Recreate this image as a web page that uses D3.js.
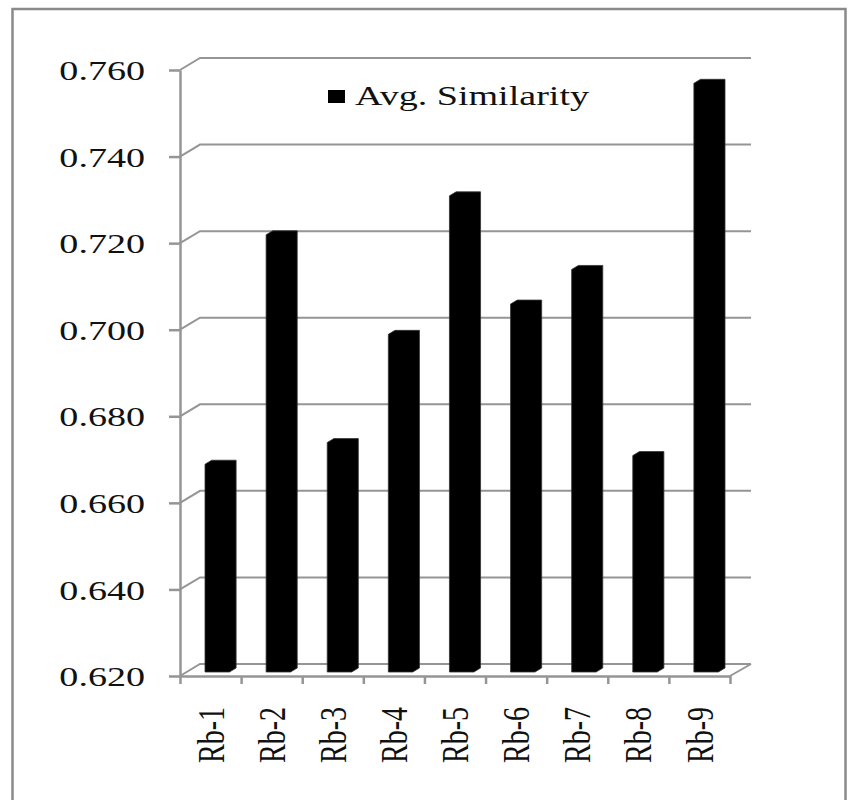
<!DOCTYPE html>
<html>
<head>
<meta charset="utf-8">
<script src="https://cdn.jsdelivr.net/npm/d3@7/dist/d3.min.js"></script>
<style>
  html, body { margin: 0; padding: 0; background: #fff; }
  svg { display: block; }
  text { font-family: "Liberation Serif", "Times New Roman", serif; fill: #111; }
</style>
</head>
<body>
<svg id="chart" width="857" height="800"></svg>
<script>
// Average similarity per run
const categories = ["Rb-1", "Rb-2", "Rb-3", "Rb-4", "Rb-5", "Rb-6", "Rb-7", "Rb-8", "Rb-9"];
const avgSimilarity = [0.668, 0.721, 0.673, 0.698, 0.730, 0.705, 0.713, 0.670, 0.756];
const yTicks = [0.620, 0.640, 0.660, 0.680, 0.700, 0.720, 0.740, 0.760];
const seriesName = "Avg. Similarity";

const svg = d3.select("#chart");
const gridColor = "#959595";
const stretch = 1.36;          // horizontal stretch applied to all text
const depth = { dx: 20, dy: -12 };   // offset from front plane to back wall

const plot = { left: 180, right: 730, top: 70, bottom: 676 };

const y = d3.scaleLinear().domain([0.62, 0.76]).range([plot.bottom, plot.top]);
const x = d3.scaleBand().domain(categories)
  .range([plot.left, plot.right]).paddingInner(0.6).paddingOuter(0.3);
const xTick = d3.scaleLinear().domain([0, categories.length]).range([plot.left, plot.right]);

// outer frame
svg.append("rect")
  .attr("x", 12.5).attr("y", 9).attr("width", 833).attr("height", 800)
  .attr("fill", "none").attr("stroke", "#8a8a8a").attr("stroke-width", 2.5);

// back-wall gridlines with their slanted side-wall segment
svg.append("g").selectAll("path").data(yTicks).join("path")
  .attr("d", t => {
    const yf = y(t);
    return `M${plot.left},${yf} L${plot.left + depth.dx},${yf + depth.dy} L${plot.right + depth.dx + 1},${yf + depth.dy}`;
  })
  .attr("fill", "none").attr("stroke", gridColor).attr("stroke-width", 2);

// floor right edge
svg.append("path")
  .attr("d", `M${plot.right},${plot.bottom} L${plot.right + depth.dx + 1},${plot.bottom + depth.dy}`)
  .attr("fill", "none").attr("stroke", gridColor).attr("stroke-width", 2);

// 3D columns: front face, top face and right side face, all solid black
const f0 = 1 / 3, f1 = 2 / 3;   // depth span of each column
svg.append("g").selectAll("path").data(categories.map((c, i) => ({ c, v: avgSimilarity[i] })))
  .join("path")
  .attr("d", d => {
    const xl = x(d.c) + depth.dx * f0, xr = xl + x.bandwidth();
    const ddx = depth.dx * (f1 - f0), ddy = depth.dy * (f1 - f0);
    const yt = y(d.v) + depth.dy * f0, yb = y(0.62) + depth.dy * f0;
    return `M${xl},${yb} L${xl},${yt} L${xl + ddx},${yt + ddy} L${xr + ddx},${yt + ddy} ` +
           `L${xr + ddx},${yb + ddy} L${xr},${yb} Z`;
  })
  .attr("fill", "#000").attr("stroke", "#333").attr("stroke-width", 0.8);

// value axis
const yAxis = svg.append("g").attr("transform", `translate(${plot.left},0)`)
  .call(d3.axisLeft(y).tickValues(yTicks).tickFormat(d3.format(".3f")).tickSize(11).tickSizeOuter(0));
yAxis.select(".domain").attr("stroke", gridColor).attr("stroke-width", 2.5);
yAxis.selectAll(".tick line").attr("stroke", gridColor).attr("stroke-width", 2.5);
yAxis.selectAll(".tick text")
  .attr("x", null).attr("dy", null)
  .attr("transform", `translate(-35,0) scale(${stretch},1)`)
  .attr("text-anchor", "end").attr("dominant-baseline", "central")
  .attr("font-size", 28).attr("font-family", null).attr("fill", "#111");

// category axis line and tick marks
const xAxis = svg.append("g").attr("transform", `translate(0,${plot.bottom})`)
  .call(d3.axisBottom(xTick).tickValues(d3.range(categories.length + 1)).tickFormat("").tickSize(8).tickSizeOuter(0));
xAxis.select(".domain").attr("stroke", gridColor).attr("stroke-width", 2.5);
xAxis.selectAll(".tick line").attr("stroke", gridColor).attr("stroke-width", 2.5);

// rotated category labels
svg.append("g").selectAll("text").data(categories).join("text")
  .attr("transform", c => `translate(${x(c) + x.bandwidth() / 2},707) scale(${stretch},1) rotate(-90)`)
  .attr("text-anchor", "end").attr("dominant-baseline", "central")
  .attr("font-size", 28)
  .text(c => c);

// legend
const legend = svg.append("g");
legend.append("rect").attr("x", 328).attr("y", 90).attr("width", 17).attr("height", 13).attr("fill", "#000");
legend.append("text")
  .attr("transform", `translate(355,105) scale(${stretch},1)`)
  .attr("font-size", 28)
  .text(seriesName);
</script>
</body>
</html>
